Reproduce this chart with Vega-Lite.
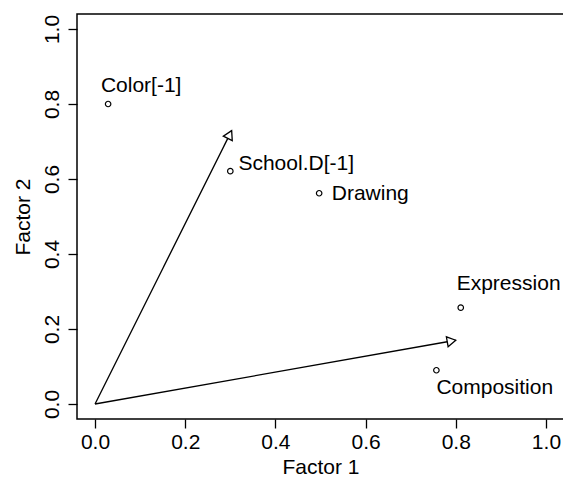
{
  "$schema": "https://vega.github.io/schema/vega-lite/v6.json",
  "width": 487,
  "height": 405,
  "autosize": {"type": "none"},
  "padding": {"left": 77, "top": 14, "right": 0, "bottom": 60},
  "background": "white",
  "config": {
    "font": "Liberation Sans",
    "view": {"stroke": "black", "strokeWidth": 1.5},
    "axis": {
      "grid": false,
      "domain": false,
      "ticks": true,
      "tickColor": "black",
      "tickSize": 9,
      "tickWidth": 1.3,
      "labelColor": "black",
      "labelFont": "Liberation Sans",
      "labelFontSize": 21,
      "titleFont": "Liberation Sans",
      "titleFontSize": 21,
      "titleFontWeight": "normal",
      "titleColor": "black"
    }
  },
  "datasets": {
    "points": [
      {"name": "Color[-1]", "x": 0.029, "y": 0.80, "lx": 0.013, "ly": 0.832},
      {"name": "School.D[-1]", "x": 0.30, "y": 0.621, "lx": 0.318, "ly": 0.624},
      {"name": "Drawing", "x": 0.497, "y": 0.562, "lx": 0.525, "ly": 0.544},
      {"name": "Expression", "x": 0.811, "y": 0.257, "lx": 0.802, "ly": 0.304},
      {"name": "Composition", "x": 0.757, "y": 0.090, "lx": 0.757, "ly": 0.028}
    ],
    "arrows": [
      {"x0": 0, "y0": 0, "x": 0.303, "y": 0.729},
      {"x0": 0, "y0": 0, "x": 0.80, "y": 0.170}
    ]
  },
  "layer": [
    {
      "data": {"name": "arrows"},
      "mark": {"type": "rule", "color": "black", "strokeWidth": 1.3, "clip": true},
      "encoding": {
        "x": {"field": "x0", "type": "quantitative",
              "scale": {"domain": [-0.04, 1.04], "nice": false, "zero": false},
              "axis": {"values": [0, 0.2, 0.4, 0.6, 0.8, 1.0], "format": ".1f", "title": "Factor 1", "labelPadding": 3, "titlePadding": 4}},
        "y": {"field": "y0", "type": "quantitative",
              "scale": {"domain": [-0.04, 1.04], "nice": false, "zero": false},
              "axis": {"values": [0, 0.2, 0.4, 0.6, 0.8, 1.0], "format": ".1f", "title": "Factor 2", "labelAngle": -90, "labelAlign": "center", "labelBaseline": "bottom", "labelPadding": 6, "titlePadding": 8}},
        "x2": {"field": "x"},
        "y2": {"field": "y"}
      }
    },
    {
      "data": {"name": "arrows"},
      "transform": [
        {"calculate": "atan2(datum.x * 451, datum.y * 374.4) * 180 / PI", "as": "ang"}
      ],
      "mark": {"type": "point", "shape": "M0,0L-0.577,1L0.577,1Z", "size": 300, "filled": false, "fill": "white", "fillOpacity": 1, "stroke": "black", "strokeWidth": 1.3, "opacity": 1},
      "encoding": {
        "x": {"field": "x", "type": "quantitative"},
        "y": {"field": "y", "type": "quantitative"},
        "angle": {"field": "ang", "type": "quantitative", "scale": null}
      }
    },
    {
      "data": {"name": "points"},
      "mark": {"type": "point", "shape": "circle", "size": 30, "filled": false, "stroke": "black", "strokeWidth": 1.2, "opacity": 1},
      "encoding": {
        "x": {"field": "x", "type": "quantitative"},
        "y": {"field": "y", "type": "quantitative"}
      }
    },
    {
      "data": {"name": "points"},
      "mark": {"type": "text", "align": "left", "baseline": "alphabetic", "fontSize": 21, "font": "Liberation Sans", "color": "black"},
      "encoding": {
        "x": {"field": "lx", "type": "quantitative"},
        "y": {"field": "ly", "type": "quantitative"},
        "text": {"field": "name"}
      }
    }
  ]
}
